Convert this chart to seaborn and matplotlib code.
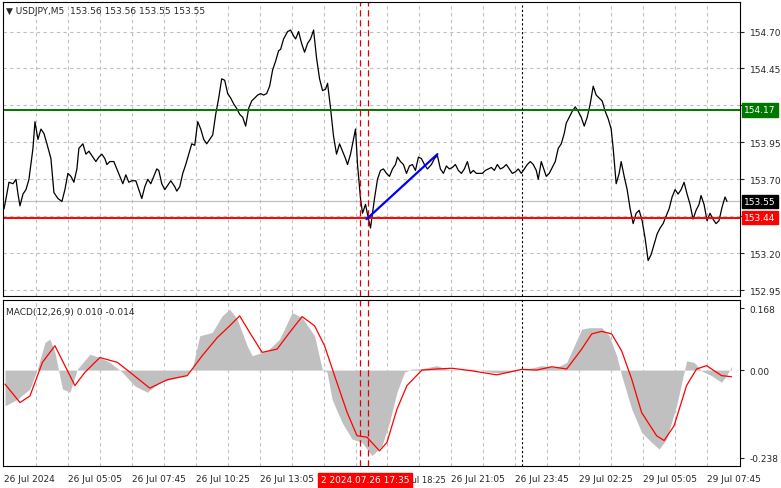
import numpy as np
import pandas as pd
import seaborn as sns
import matplotlib.pyplot as plt

# price samples (bar index, close)
price_bar = [0, 1, 2.5, 4.5, 6, 7, 8, 9.5, 11, 12.5, 14.5, 15.5, 17, 18.5, 20, 21.5, 23.5, 25, 27, 29,
             30.5, 32, 33.5, 35, 36.5, 37.5, 39.5, 41, 42.5, 44, 46, 47.5, 49, 50.5, 51.5, 53, 55, 56.5, 58, 59.5,
             61, 62.5, 64, 66, 67.5, 69, 70.5, 72, 73.5, 75, 76.5, 77.5, 79, 80.5, 82, 83.5, 85.5, 86.5, 88, 89.5,
             91, 92.5, 94, 95.5, 97, 98.5, 100, 101.5, 103, 104.5, 106, 107.5, 109, 110.5, 112, 113.5, 115, 116.5, 118, 119.5,
             121, 122.5, 124, 125.5, 127, 128.5, 130, 131.5, 133, 134.5, 136, 137.5, 138.5, 140, 142, 143.5, 145, 146, 147.5, 149,
             150.5, 152, 153.5, 155, 156.5, 158, 159.5, 161, 162, 163.5, 165, 166.5, 168, 169.5, 171, 172, 173.5, 175, 176, 177,
             178.5, 179.5, 181, 182.5, 183.5, 184.5, 185.5, 187, 188.5, 190, 191.5, 193, 194.5, 196, 197, 198.5, 200, 201.5, 203, 204.5,
             206, 207.5, 209, 210.5, 212, 214, 215.5, 217, 218.5, 220, 221.5, 223, 224.5, 226, 227.5, 229, 230.5, 232, 233.5, 235,
             236.5, 238, 239.5, 241, 242.5, 244, 245.5, 247, 248.5, 250, 251.5, 253, 254.5, 256, 257.5, 259, 260.5, 262, 263.5, 265,
             266.5, 267.5, 269, 270, 271.5, 273, 274.5, 276, 277.5, 279, 280.5, 281.5, 283, 284.5, 286, 287.5, 289, 290.5, 292, 293.5,
             295, 296.5, 298, 299.5, 301, 302.5, 304, 305, 306.5, 308, 309, 310.5, 312, 313.5, 315, 316.5, 318, 319.5, 321, 322.5,
             324, 325.5, 327, 328.5, 330, 331.5, 333, 334.5, 336, 337.5, 339, 340.5, 342, 343.5, 345, 346.5, 348, 349, 350.5, 352,
             353.5, 355, 356.5, 358, 359.5, 361, 362]
price = [153.50, 153.57, 153.68, 153.67, 153.70, 153.60, 153.52, 153.60, 153.63, 153.70, 153.91, 154.09, 153.97, 154.04, 154.01, 153.94, 153.84, 153.61, 153.57, 153.55,
         153.63, 153.74, 153.72, 153.68, 153.77, 153.91, 153.94, 153.87, 153.89, 153.86, 153.82, 153.85, 153.87, 153.84, 153.80, 153.82, 153.82, 153.77, 153.72, 153.67,
         153.73, 153.68, 153.69, 153.69, 153.63, 153.57, 153.65, 153.70, 153.67, 153.72, 153.77, 153.76, 153.67, 153.63, 153.66, 153.69, 153.65, 153.62, 153.65, 153.74,
         153.80, 153.87, 153.94, 153.93, 154.09, 154.04, 153.97, 153.94, 153.97, 154.00, 154.14, 154.25, 154.38, 154.37, 154.28, 154.25, 154.21, 154.18, 154.14, 154.12,
         154.06, 154.18, 154.23, 154.25, 154.27, 154.28, 154.27, 154.28, 154.33, 154.44, 154.50, 154.57, 154.58, 154.65, 154.70, 154.71, 154.67, 154.65, 154.70, 154.62,
         154.56, 154.62, 154.65, 154.71, 154.52, 154.38, 154.30, 154.31, 154.35, 154.18, 153.99, 153.87, 153.94, 153.89, 153.84, 153.80, 153.87, 153.97, 154.04, 153.80,
         153.57, 153.47, 153.53, 153.43, 153.37, 153.47, 153.57, 153.70, 153.76, 153.77, 153.74, 153.72, 153.77, 153.80, 153.85, 153.82, 153.80, 153.74, 153.79, 153.80,
         153.76, 153.85, 153.84, 153.80, 153.77, 153.80, 153.84, 153.86, 153.77, 153.74, 153.79, 153.77, 153.78, 153.80, 153.76, 153.74, 153.77, 153.82, 153.74, 153.76,
         153.74, 153.74, 153.74, 153.76, 153.77, 153.78, 153.76, 153.80, 153.77, 153.78, 153.80, 153.77, 153.74, 153.75, 153.77, 153.74, 153.77, 153.80, 153.82, 153.80,
         153.76, 153.70, 153.82, 153.78, 153.72, 153.74, 153.78, 153.82, 153.91, 153.94, 154.01, 154.08, 154.12, 154.16, 154.19, 154.16, 154.12, 154.06, 154.12, 154.21,
         154.33, 154.27, 154.25, 154.23, 154.16, 154.11, 154.04, 153.91, 153.67, 153.74, 153.82, 153.72, 153.63, 153.50, 153.40, 153.47, 153.49, 153.42, 153.30, 153.15,
         153.19, 153.26, 153.33, 153.37, 153.40, 153.45, 153.50, 153.58, 153.63, 153.60, 153.63, 153.68, 153.60, 153.53, 153.43, 153.49, 153.53, 153.59, 153.53, 153.42,
         153.47, 153.43, 153.40, 153.42, 153.51, 153.58, 153.55]

# MACD histogram samples
hist_bar = [0.5, 6.75, 13, 16.75, 20.5, 23, 25.5, 29.25, 33, 36.75, 43, 48, 53, 59.25, 65.5, 71.75, 78, 84.25, 90.5, 94.25,
            98, 104.25, 109.25, 113, 116.75, 121.75, 124.25, 131.75, 138, 144.25, 149.25, 155.5, 159.25, 161.75, 164.25, 169.25, 174.25, 179.25, 184.25, 189.25,
            193, 196.75, 200.5, 204.25, 209.25, 216.75, 224.25, 234.25, 244.25, 249.25, 256.75, 261.75, 269.25, 276.75, 281.75, 285.5, 289.25, 293, 299.25, 303,
            306.75, 309.25, 314.25, 319.25, 324.25, 328, 331.75, 336.75, 341.75, 345.5, 349.25, 354.25, 359.25, 361.75, 364.25]
hist = [-0.097, -0.079, -0.051, 0.003, 0.075, 0.084, 0.048, -0.051, -0.060, 0.003, 0.043, 0.034, 0.021, -0.006, -0.043, -0.060, -0.033, -0.024, -0.015, 0.003,
        0.093, 0.102, 0.147, 0.165, 0.138, 0.066, 0.039, 0.052, 0.084, 0.156, 0.142, 0.093, 0.003, -0.006, -0.079, -0.142, -0.187, -0.196, -0.232, -0.205,
        -0.142, -0.060, -0.006, 0.003, 0.004, 0.012, -0.002, 0.003, -0.006, -0.008, -0.002, 0.003, 0.012, 0.007, 0.021, 0.066, 0.111, 0.115, 0.115, 0.093,
        0.039, -0.015, -0.105, -0.169, -0.196, -0.214, -0.187, -0.096, 0.025, 0.021, -0.002, -0.015, -0.033, -0.015, 0.010]

# MACD signal line samples
sig_bar = [0.5, 8, 13, 19.25, 25.5, 30.5, 35.5, 40.5, 48, 56.75, 64.25, 73, 81.75, 91.75, 99.25, 106.75, 113, 118, 123, 129.25,
           136.75, 143, 149.25, 155.5, 160.5, 165.5, 171.75, 176.75, 181.75, 188, 191.75, 196.75, 201.75, 209.25, 216.75, 224.25, 234.25, 246.75, 259.25, 266.75,
           274.25, 281.75, 289.25, 294.25, 299.25, 304.25, 309.25, 314.25, 319.25, 326.75, 330.5, 335.5, 341.75, 346.75, 351.75, 359.25, 364.25]
signal = [-0.038, -0.088, -0.070, 0.021, 0.066, 0.012, -0.042, -0.006, 0.034, 0.021, -0.011, -0.049, -0.026, -0.015, 0.039, 0.088, 0.120, 0.147, 0.102, 0.048,
          0.057, 0.102, 0.145, 0.120, 0.066, -0.015, -0.114, -0.178, -0.182, -0.219, -0.196, -0.106, -0.042, 0.0, 0.003, 0.005, -0.002, -0.013, 0.002, 0.0,
          0.009, 0.003, 0.057, 0.098, 0.105, 0.098, 0.052, -0.024, -0.115, -0.178, -0.191, -0.151, -0.042, 0.003, 0.012, -0.015, -0.018]

price_ticks = [152.95, 153.20, 153.45, 153.70, 153.95, 154.20, 154.45, 154.70]
hidden_price_ticks = [153.45, 154.20]  # covered by the level boxes
time_ticks = [0, 32, 64, 96, 128, 192, 224, 256, 288, 320, 352]
time_labels = ["26 Jul 2024", "26 Jul 05:05", "26 Jul 07:45", "26 Jul 10:25", "26 Jul 13:05",
               "", "26 Jul 21:05", "26 Jul 23:45", "29 Jul 02:25", "29 Jul 05:05", "29 Jul 07:45"]
resistance, support, last_price = 154.17, 153.44, 153.55
red_marks = [178, 182]
day_mark = 259.3
trend_bar = [181.5, 217]
trend_price = [153.43, 153.87]

sns.set_style("white")
plt.rcParams['font.family'] = ['DejaVu Sans']
fs = 6.5

fig = plt.figure(figsize=(7.81, 4.89), dpi=100)
ax = fig.add_axes([3 / 781, 1 - 297 / 489, 737 / 781, 294 / 489])
ax2 = fig.add_axes([3 / 781, 1 - 467 / 489, 737 / 781, 166 / 489])
xlim = (-0.5, 368.5)

df = pd.DataFrame({"bar": price_bar, "price": price})
sns.lineplot(data=df, x="bar", y="price", ax=ax, color="black", lw=0.9)
ax.set_xlim(*xlim)
ax.set_ylim(152.91, 154.90)
for v in np.arange(16, 368, 16):
    ax.axvline(v, color="#c0c0c0", ls=(0, (3, 3)), lw=0.8, zorder=0)
    ax2.axvline(v, color="#c0c0c0", ls=(0, (3, 3)), lw=0.8, zorder=0)
for p in price_ticks:
    ax.axhline(p, color="#c0c0c0", ls=(0, (3, 3)), lw=0.8, zorder=0)
ax.axhline(last_price, color="#c0c0c0", lw=0.9, zorder=1)
ax.axhline(resistance, color="#007800", lw=1.4)
ax.axhline(support, color="#ff0000", lw=1.4)
for a in (ax, ax2):
    for m in red_marks:
        a.axvline(m, color="#e00000", ls=(0, (5, 3)), lw=0.9)
    a.axvline(day_mark, color="black", ls=(0, (2, 2)), lw=0.8)
ax.plot(trend_bar, trend_price, color="#0000ff", lw=1.6)

ax.yaxis.tick_right()
ax.set_yticks(price_ticks)
ax.set_yticklabels(["" if p in hidden_price_ticks else f"{p:.2f}" for p in price_ticks], fontsize=fs)
ax.tick_params(axis="y", length=3, pad=4)
ax.set_xticks([])
ax.set_xlabel("")
ax.set_ylabel("")
for lvl, col in [(resistance, "#007800"), (last_price, "black"), (support, "#ff0000")]:
    ax.text(1.006, lvl, f"{lvl:.2f}", transform=ax.get_yaxis_transform(), fontsize=fs,
            color="white", va="center", ha="left",
            bbox=dict(boxstyle="square,pad=0.25", fc=col, ec=col))
ax.text(0.004, 0.985, "▼ USDJPY,M5  153.56 153.56 153.55 153.55", transform=ax.transAxes,
        fontsize=fs, va="top", ha="left")

# MACD panel
ax2.fill_between(hist_bar, hist, 0, color="#c0c0c0", lw=0)
sdf = pd.DataFrame({"bar": sig_bar, "signal": signal})
sns.lineplot(data=sdf, x="bar", y="signal", ax=ax2, color="#ff0000", lw=0.9)
ax2.set_xlim(*xlim)
ax2.set_ylim(-0.260, 0.190)
ax2.yaxis.tick_right()
ax2.set_yticks([0.168, 0.0, -0.238])
ax2.set_yticklabels(["0.168", "0.00", "-0.238"], fontsize=fs)
ax2.tick_params(axis="y", length=3, pad=4)
ax2.set_xticks(time_ticks)
ax2.set_xticklabels(time_labels, fontsize=fs, ha="left")
ax2.tick_params(axis="x", length=3, pad=3)
ax2.set_xlabel("")
ax2.set_ylabel("")
ax2.text(0.004, 0.96, "MACD(12,26,9) 0.010 -0.014", transform=ax2.transAxes, fontsize=fs, va="top")
ax2.text(158.5, -0.285, "2 2024.07.26 17:35", fontsize=fs, color="white", va="top", ha="left",
         bbox=dict(boxstyle="square,pad=0.3", fc="#ff0000", ec="#ff0000"), zorder=10, clip_on=False)
ax2.text(203, -0.285, "Jul 18:25", fontsize=6, va="top", ha="left", clip_on=False)

for a in (ax, ax2):
    for s in a.spines.values():
        s.set_color("black")
        s.set_linewidth(0.8)

fig.savefig("out.png", dpi=100)
